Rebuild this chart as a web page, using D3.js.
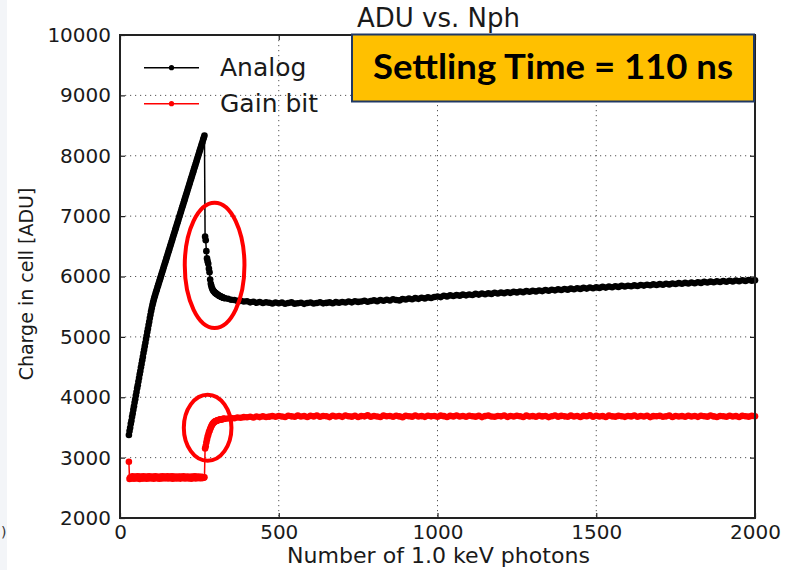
<!DOCTYPE html>
<html>
<head>
<meta charset="utf-8">
<script src="https://cdn.jsdelivr.net/npm/d3@7"></script>
<style>
  body { margin: 0; background: #fff; }
  svg { display: block; }
</style>
</head>
<body>
<svg id="chart" width="786" height="570"></svg>
<script>
// ---- axis ticks ----
const xTicks = [0, 500, 1000, 1500, 2000];
const yTicks = [2000, 3000, 4000, 5000, 6000, 7000, 8000, 9000, 10000];

// ---- photon-count sampling of the scan ----
const fineStart = 28;      // first scan point
const fineStep = 2;        // step through the rise and the settling edge
const settleStart = 268;   // first point after the gain switch
const tailStart = 340;     // coarse part of the scan
const tailStep = 10;

// ---- Analog: ADU, rising edge (x = 28, 30, ... 266) ----
const analogRise = [
  3375, 3440, 3495, 3560, 3612, 3676, 3731, 3795, 3850, 3912,
  3966, 4030, 4085, 4148, 4200, 4262, 4318, 4380, 4436, 4497,
  4552, 4614, 4668, 4731, 4785, 4846, 4902, 4963, 5018, 5080,
  5133, 5196, 5250, 5311, 5367, 5423, 5475, 5523, 5567, 5608,
  5646, 5682, 5717, 5751, 5785, 5820, 5853, 5888, 5921, 5956,
  5989, 6024, 6057, 6092, 6125, 6160, 6193, 6228, 6261, 6296,
  6329, 6364, 6397, 6432, 6465, 6500, 6533, 6568, 6601, 6636,
  6669, 6704, 6737, 6772, 6805, 6840, 6873, 6908, 6941, 6976,
  7009, 7044, 7077, 7112, 7145, 7180, 7213, 7248, 7281, 7316,
  7349, 7384, 7417, 7452, 7485, 7520, 7553, 7588, 7621, 7656,
  7689, 7724, 7757, 7792, 7825, 7860, 7893, 7928, 7961, 7996,
  8029, 8064, 8097, 8132, 8165, 8200, 8233, 8268, 8301, 8336
];
// ---- Analog: settling after the gain switch (x = 268 ... 330) ----
const analogSettle = [
  6660, 6600, 6420, 6300, 6250, 6210, 6130, 6070, 5950, 5880,
  5840, 5805, 5780, 5765, 5750, 5738, 5728, 5720, 5712, 5705,
  5698, 5690, 5683, 5676, 5671, 5666, 5660, 5655, 5651, 5647,
  5643, 5640
];
// ---- Analog: tail (x = 340, 350, ... 2000) ----
const analogTail = [
  5632, 5615, 5611, 5596, 5597, 5585,
  5590, 5572, 5583, 5566, 5578, 5561, 5574, 5565, 5552, 5570,
  5556, 5568, 5549, 5562, 5571, 5550, 5558, 5566, 5547, 5561,
  5569, 5552, 5560, 5574, 5555, 5563, 5571, 5557, 5575, 5566,
  5578, 5570, 5585, 5572, 5590, 5579, 5586, 5598, 5581, 5593,
  5605, 5592, 5610, 5598, 5616, 5603, 5622, 5611, 5604, 5626,
  5618, 5634, 5623, 5641, 5630, 5648, 5637, 5654, 5644, 5660,
  5668, 5659, 5681, 5670, 5688, 5676, 5692, 5683, 5699, 5688,
  5703, 5694, 5712, 5700, 5718, 5707, 5721, 5712, 5730, 5719,
  5733, 5724, 5740, 5729, 5746, 5737, 5752, 5741, 5758, 5748,
  5762, 5753, 5769, 5758, 5776, 5764, 5781, 5771, 5787, 5777,
  5792, 5782, 5799, 5788, 5805, 5795, 5811, 5800, 5817, 5806,
  5821, 5811, 5828, 5816, 5833, 5823, 5838, 5828, 5845, 5834,
  5848, 5838, 5853, 5843, 5860, 5849, 5864, 5855, 5870, 5859,
  5874, 5864, 5880, 5869, 5885, 5875, 5891, 5880, 5895, 5885,
  5900, 5889, 5905, 5894, 5911, 5900, 5915, 5905, 5920, 5909,
  5925, 5913, 5929, 5918, 5934, 5922, 5938, 5927, 5942, 5930,
  5936
];

// ---- Gain bit: ADU, before the switch (x = 28 ... 266) ----
const gainLow = [
  2932, 2648, 2672, 2655, 2684, 2661, 2690, 2668, 2650, 2679,
  2663, 2688, 2657, 2674, 2692, 2660, 2681, 2648, 2670, 2686,
  2662, 2677, 2653, 2689, 2668, 2659, 2683, 2671, 2650, 2687,
  2664, 2676, 2691, 2656, 2673, 2682, 2661, 2669, 2688, 2652,
  2678, 2665, 2690, 2658, 2674, 2684, 2660, 2671, 2649, 2686,
  2667, 2680, 2655, 2692, 2663, 2675, 2686, 2657, 2670, 2681,
  2662, 2689, 2654, 2676, 2666, 2685, 2659, 2672, 2690, 2651,
  2679, 2664, 2687, 2660, 2673, 2683, 2656, 2670, 2688, 2662,
  2677, 2653, 2685, 2668, 2674, 2660, 2690, 2665, 2679, 2655,
  2683, 2671, 2662, 2688, 2657, 2676, 2667, 2684, 2652, 2673,
  2686, 2661, 2678, 2669, 2690, 2656, 2674, 2682, 2663, 2671,
  2687, 2658, 2676, 2665, 2684, 2660, 2679, 2670, 2668, 2675
];
// ---- Gain bit: after the switch (x = 268 ... 330) ----
const gainSettle = [
  3150, 3190, 3250, 3300, 3350, 3380, 3420, 3445, 3475, 3500,
  3525, 3545, 3560, 3572, 3584, 3594, 3600, 3606, 3611, 3615,
  3619, 3622, 3625, 3628, 3630, 3633, 3635, 3637, 3639, 3641,
  3643, 3645
];
// ---- Gain bit: tail (x = 340, 350, ... 2000) ----
const gainTail = [
  3648, 3655, 3652, 3664, 3660, 3670,
  3668, 3676, 3665, 3680, 3671, 3684, 3674, 3679, 3688, 3677,
  3690, 3681, 3672, 3693, 3684, 3676, 3695, 3680, 3688, 3674,
  3692, 3683, 3698, 3677, 3689, 3685, 3671, 3694, 3682, 3690,
  3675, 3697, 3686, 3679, 3693, 3672, 3688, 3684, 3699, 3678,
  3690, 3681, 3674, 3696, 3685, 3689, 3677, 3694, 3683, 3670,
  3692, 3686, 3679, 3697, 3681, 3688, 3675, 3693, 3684, 3690,
  3678, 3695, 3687, 3672, 3691, 3683, 3698, 3680, 3689, 3676,
  3694, 3685, 3679, 3692, 3671, 3688, 3696, 3682, 3677, 3690,
  3684, 3697, 3675, 3689, 3681, 3693, 3686, 3673, 3695, 3680,
  3688, 3677, 3694, 3683, 3690, 3671, 3686, 3698, 3679, 3692,
  3684, 3676, 3695, 3682, 3689, 3674, 3691, 3685, 3700, 3678,
  3693, 3681, 3688, 3672, 3696, 3684, 3679, 3692, 3686, 3675,
  3690, 3683, 3697, 3677, 3689, 3680, 3694, 3671, 3687, 3685,
  3692, 3678, 3684, 3696, 3673, 3690, 3682, 3688, 3676, 3694,
  3681, 3689, 3675, 3693, 3686, 3679, 3697, 3683, 3672, 3690,
  3685, 3677, 3694, 3681, 3688, 3674, 3692, 3686, 3679, 3691,
  3684
];

// ---- callout ellipses, in data units (centre x, centre y, half-width, half-height) ----
const highlights = [
  { cx: 298, cy: 6185, rx: 94, ry: 1038 },
  { cx: 276, cy: 3495, rx: 75, ry: 546 }
];

// ---- assemble series ----
function segment(start, step, values) {
  return values.map((v, i) => [start + i * step, v]);
}
const series = [
  {
    name: "Analog", color: "#000000",
    points: segment(fineStart, fineStep, analogRise)
      .concat(segment(settleStart, fineStep, analogSettle))
      .concat(segment(tailStart, tailStep, analogTail))
  },
  {
    name: "Gain bit", color: "#ff0000",
    points: segment(fineStart, fineStep, gainLow)
      .concat(segment(settleStart, fineStep, gainSettle))
      .concat(segment(tailStart, tailStep, gainTail))
  }
];

// ---- layout ----
const svg = d3.select("#chart");
const plot = { left: 120, right: 755, top: 35, bottom: 518 };
const x = d3.scaleLinear().domain([0, 2000]).range([plot.left, plot.right]);
const y = d3.scaleLinear().domain([2000, 10000]).range([plot.bottom, plot.top]);
const FONT = "'DejaVu Sans', 'Bitstream Vera Sans', sans-serif";

// light strip along the left page edge
svg.append("rect").attr("x", 0).attr("y", 0).attr("width", 7).attr("height", 570).attr("fill", "#f3f5f8");
svg.append("text").attr("x", 1).attr("y", 537).attr("font-family", FONT).attr("font-size", 14)
  .attr("fill", "#333").text(")");

// grid
const grid = svg.append("g").attr("stroke", "#555").attr("stroke-width", 1).attr("stroke-dasharray", "1.2,3.8");
grid.selectAll("line.gx").data(xTicks.slice(1, -1)).join("line")
  .attr("x1", d => x(d)).attr("x2", d => x(d)).attr("y1", plot.top).attr("y2", plot.bottom);
grid.selectAll("line.gy").data(yTicks.slice(1, -1)).join("line")
  .attr("x1", plot.left).attr("x2", plot.right).attr("y1", d => y(d)).attr("y2", d => y(d));

// axes (ticks pointing inward on all four sides)
function styleAxis(g) {
  g.select(".domain").remove();
  g.selectAll(".tick line").attr("stroke", "#222").attr("stroke-width", 1.2);
  g.selectAll(".tick text").attr("font-family", FONT).attr("font-size", 20).attr("fill", "#1a1a1a");
}
svg.append("g").attr("transform", `translate(0,${plot.bottom})`)
  .call(d3.axisBottom(x).tickValues(xTicks).tickFormat(d3.format("d")).tickSizeInner(-5).tickSizeOuter(0).tickPadding(6.5))
  .call(styleAxis);
svg.append("g").attr("transform", `translate(${plot.left},0)`)
  .call(d3.axisLeft(y).tickValues(yTicks).tickFormat(d3.format("d")).tickSizeInner(-5).tickSizeOuter(0).tickPadding(9))
  .call(styleAxis);
svg.append("g").attr("transform", `translate(0,${plot.top})`)
  .call(d3.axisTop(x).tickValues(xTicks).tickFormat("").tickSizeInner(-5).tickSizeOuter(0))
  .call(styleAxis);
svg.append("g").attr("transform", `translate(${plot.right},0)`)
  .call(d3.axisRight(y).tickValues(yTicks).tickFormat("").tickSizeInner(-5).tickSizeOuter(0))
  .call(styleAxis);

// series: connecting line then point markers
const line = d3.line().x(d => x(d[0])).y(d => y(d[1]));
series.forEach(s => {
  const g = svg.append("g");
  g.append("path").attr("d", line(s.points)).attr("fill", "none")
    .attr("stroke", s.color).attr("stroke-width", 1.5);
  g.selectAll("circle").data(s.points).join("circle")
    .attr("cx", d => x(d[0])).attr("cy", d => y(d[1])).attr("r", 3.3).attr("fill", s.color);
});

// frame
svg.append("rect").attr("x", plot.left).attr("y", plot.top)
  .attr("width", plot.right - plot.left).attr("height", plot.bottom - plot.top)
  .attr("fill", "none").attr("stroke", "#222").attr("stroke-width", 2);

// title and axis labels
svg.append("text").attr("x", (plot.left + plot.right) / 2 + 1).attr("y", 26.5)
  .attr("text-anchor", "middle").attr("font-family", FONT).attr("font-size", 26).attr("fill", "#1a1a1a")
  .text("ADU vs. Nph");
svg.append("text").attr("x", 438.5).attr("y", 563)
  .attr("text-anchor", "middle").attr("font-family", FONT).attr("font-size", 21.5).attr("fill", "#1a1a1a")
  .attr("textLength", 303).attr("lengthAdjust", "spacingAndGlyphs")
  .text("Number of 1.0 keV photons");
svg.append("text").attr("transform", "translate(33,284) rotate(-90)")
  .attr("text-anchor", "middle").attr("font-family", FONT).attr("font-size", 19).attr("fill", "#1a1a1a")
  .text("Charge in cell [ADU]");

// legend
const legend = svg.append("g");
series.forEach((s, i) => {
  const ly = 67.7 + i * 36;
  legend.append("line").attr("x1", 144).attr("x2", 199).attr("y1", ly).attr("y2", ly)
    .attr("stroke", s.color).attr("stroke-width", 1.5);
  legend.append("circle").attr("cx", 171.5).attr("cy", ly).attr("r", 2.6).attr("fill", s.color);
  legend.append("text").attr("x", 220).attr("y", ly + 8.5)
    .attr("font-family", FONT).attr("font-size", 25).attr("fill", "#1a1a1a").text(s.name);
});

// red callout ellipses around the settling regions
svg.append("g").selectAll("ellipse").data(highlights).join("ellipse")
  .attr("cx", d => x(d.cx)).attr("cy", d => y(d.cy))
  .attr("rx", d => x(d.cx + d.rx) - x(d.cx)).attr("ry", d => y(d.cy - d.ry) - y(d.cy))
  .attr("fill", "none").attr("stroke", "#ff0000").attr("stroke-width", 4);

// settling-time banner
const banner = svg.append("g");
banner.append("rect").attr("x", 352).attr("y", 34.5).attr("width", 402).attr("height", 67)
  .attr("fill", "#ffc000").attr("stroke", "#1f3864").attr("stroke-width", 2);
banner.append("text").attr("x", 553).attr("y", 79).attr("text-anchor", "middle")
  .attr("font-family", "Lato, 'Open Sans', sans-serif").attr("font-weight", "bold").attr("font-size", 34)
  .attr("textLength", 360).attr("lengthAdjust", "spacingAndGlyphs").attr("fill", "#000")
  .text("Settling Time = 110 ns");
</script>
</body>
</html>
